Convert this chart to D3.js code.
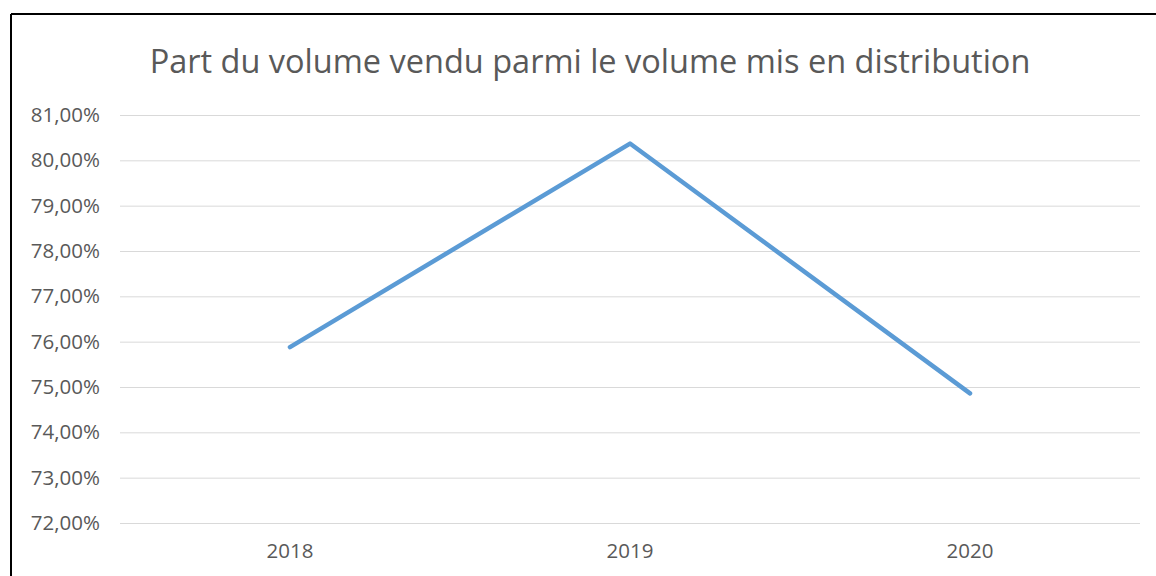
<!DOCTYPE html>
<html>
<head>
<meta charset="utf-8">
<script src="https://cdn.jsdelivr.net/npm/d3@7"></script>
<style>
  body { margin: 0; background: #fff; }
  text { font-family: "Open Sans", sans-serif; fill: #595959; }
  .grid line { stroke: #d9d9d9; stroke-width: 1; }
  .line { fill: none; stroke: #5b9bd5; stroke-width: 4.5; stroke-linecap: round; stroke-linejoin: round; }
</style>
</head>
<body>
<div id="chart"></div>
<script>
var title = "Part du volume vendu parmi le volume mis en distribution";
var years = ["2018", "2019", "2020"];
var share = [75.88, 80.37, 74.86];
var yTicks = [72, 73, 74, 75, 76, 77, 78, 79, 80, 81];

var W = 1156, H = 576;
var margin = { top: 115, right: 16, bottom: 53, left: 120 },
    width = W - margin.left - margin.right,
    height = H - margin.top - margin.bottom;

var svg = d3.select("#chart").append("svg")
    .attr("width", W)
    .attr("height", H);

// chart frame (only top and left visible in the crop)
svg.append("line")
    .attr("x1", 11).attr("x2", W)
    .attr("y1", 14).attr("y2", 14)
    .style("stroke", "#000").style("stroke-width", 2);
svg.append("line")
    .attr("x1", 11).attr("x2", 11)
    .attr("y1", 14).attr("y2", H)
    .style("stroke", "#000").style("stroke-width", 2);

svg.append("text")
    .attr("x", 590)
    .attr("y", 73)
    .attr("text-anchor", "middle")
    .style("font-size", "32.5px")
    .text(title);

var g = svg.append("g")
    .attr("transform", "translate(" + margin.left + "," + margin.top + ")");

var x = d3.scaleBand()
    .domain(years)
    .range([0, width]);

var y = d3.scaleLinear()
    .domain([72, 81])
    .range([height, 0]);

var fmt = function (d) { return d3.format(".2f")(d).replace(".", ",") + "%"; };

var yAxis = d3.axisLeft(y)
    .tickValues(yTicks)
    .tickSize(-width)
    .tickFormat(fmt);

g.append("g")
    .attr("class", "grid")
    .call(yAxis)
    .call(function (s) { s.select(".domain").remove(); })
    .selectAll("text")
    .attr("x", -20)
    .style("font-size", "20.5px");

var xAxis = d3.axisBottom(x).tickSize(0);

g.append("g")
    .attr("transform", "translate(0," + height + ")")
    .call(xAxis)
    .call(function (s) { s.select(".domain").remove(); })
    .selectAll("text")
    .attr("dy", "1.55em")
    .style("font-size", "20.5px");

var line = d3.line()
    .x(function (d, i) { return x(years[i]) + x.bandwidth() / 2; })
    .y(function (d) { return y(d); });

g.append("path")
    .datum(share)
    .attr("class", "line")
    .attr("d", line);
</script>
</body>
</html>
